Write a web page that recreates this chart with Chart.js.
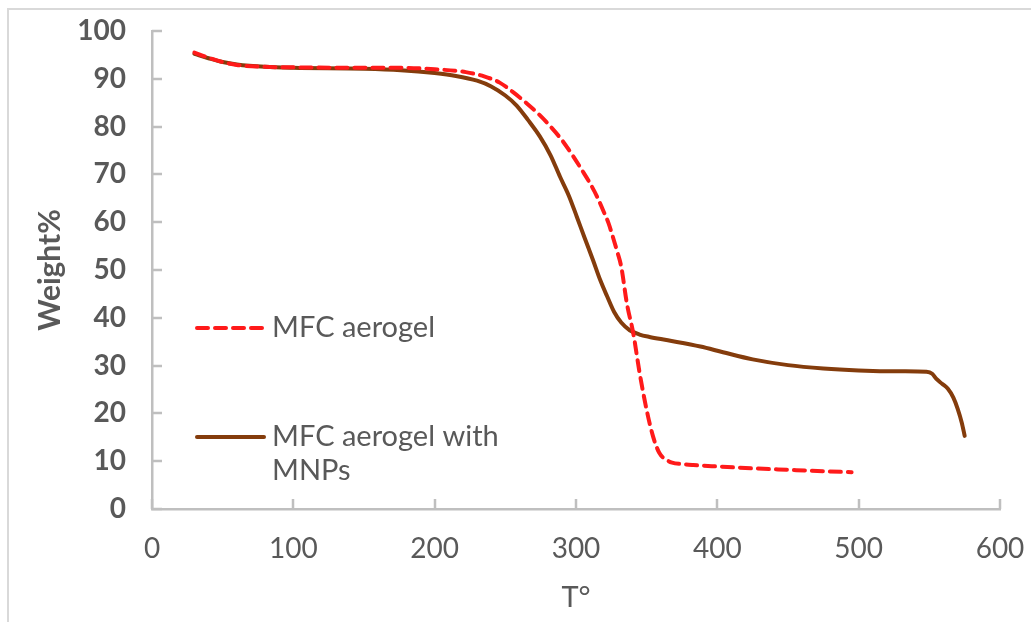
<!DOCTYPE html>
<html>
<head>
<meta charset="utf-8">
<script src="https://cdn.jsdelivr.net/npm/chart.js@4"></script>
<style>
  html, body { margin: 0; padding: 0; background: #ffffff; }
  #frame { position: absolute; left: 7px; top: 8px; width: 1100px; height: 700px; border: 2px solid #d9d9d9; box-sizing: border-box; }
  #wrap { position: absolute; left: 0; top: 0; width: 1031px; height: 622px; }
</style>
</head>
<body>
<div id="frame"></div>
<div id="wrap"><canvas id="c" width="1031" height="622"></canvas></div>
<script>
// Temperature (°C) and weight % readings
const mfcT = [30, 40, 50, 60, 80, 100, 150, 176, 200, 222, 235, 246, 255, 265, 274, 282, 290, 298, 304, 310, 315, 319, 323, 326, 329, 332, 336, 340.5, 345, 350, 354.5, 359, 364, 368, 375, 383, 400, 425, 450, 475, 495];
const mfcW = [95.5, 94.4, 93.5, 92.9, 92.5, 92.4, 92.3, 92.3, 92.0, 91.4, 90.5, 89.2, 87.3, 84.9, 82.5, 80.0, 77.2, 73.8, 71.0, 68.1, 65.3, 62.6, 59.8, 57.0, 54.0, 50.7, 43.0, 36.8, 28.5, 20.7, 15.2, 11.7, 10.3, 9.7, 9.4, 9.2, 8.9, 8.5, 8.2, 7.9, 7.7];

const mnpT = [30, 40, 50, 60, 80, 100, 150, 176, 200, 215, 230, 240, 250, 258, 266, 274.5, 282, 288.7, 295, 300.5, 306, 312, 317, 322, 327, 332, 338, 345, 352, 365, 388, 404, 425, 450, 475, 500, 530, 548, 552, 555, 559, 563, 567, 570, 573, 575];
const mnpW = [95.2, 94.3, 93.5, 93.0, 92.5, 92.3, 92.1, 91.8, 91.2, 90.6, 89.6, 88.4, 86.5, 84.4, 81.4, 77.9, 74.0, 69.5, 65.5, 61.2, 56.8, 52.1, 48.0, 44.5, 41.2, 39.0, 37.4, 36.5, 36.0, 35.3, 34.0, 32.8, 31.3, 30.1, 29.4, 29.0, 28.8, 28.7, 28.3, 27.2, 26.2, 25.2, 23.3, 21.0, 18.0, 15.3];

const seriesNames = ["MFC aerogel", "MFC aerogel with MNPs"];
const xTitle = "T°";
const yTitle = "Weight%";

const toPts = (xs, ys) => xs.map((x, i) => ({ x: x, y: ys[i] }));

const GRAY = '#595959';
const AXIS = '#bfbfbf';
const FONT = "Lato, 'Open Sans', 'Liberation Sans', sans-serif";

const insideTicks = {
  id: 'insideTicks',
  afterDraw(chart) {
    const { ctx, scales: { x, y } } = chart;
    ctx.save();
    ctx.strokeStyle = AXIS;
    ctx.lineWidth = 2.5;
    ctx.beginPath();
    y.ticks.forEach(t => {
      const py = Math.round(y.getPixelForValue(t.value));
      ctx.moveTo(x.left, py);
      ctx.lineTo(x.left + 10, py);
    });
    x.ticks.forEach(t => {
      const px = Math.round(x.getPixelForValue(t.value));
      ctx.moveTo(px, y.bottom);
      ctx.lineTo(px, y.bottom - 10);
    });
    ctx.stroke();
    ctx.restore();
  }
};

const customLegend = {
  id: 'customLegend',
  afterDraw(chart) {
    const { ctx } = chart;
    const items = [
      { ds: chart.data.datasets[0], y: 328, lines: [seriesNames[0]] },
      { ds: chart.data.datasets[1], y: 437, lines: ["MFC aerogel with", "MNPs"] }
    ];
    ctx.save();
    items.forEach(it => {
      ctx.strokeStyle = it.ds.borderColor;
      ctx.lineWidth = 4;
      ctx.lineCap = 'round';
      ctx.setLineDash(it.ds.borderDash || []);
      ctx.beginPath();
      ctx.moveTo(197, it.y);
      ctx.lineTo(264, it.y);
      ctx.stroke();
      ctx.setLineDash([]);
      ctx.fillStyle = GRAY;
      ctx.font = "29px " + FONT;
      ctx.textBaseline = 'middle';
      ctx.textAlign = 'left';
      it.lines.forEach((ln, i) => ctx.fillText(ln, 272, it.y + i * 34));
    });
    ctx.restore();
  }
};

new Chart(document.getElementById('c'), {
  type: 'line',
  data: {
    datasets: [
      {
        label: seriesNames[0],
        data: toPts(mfcT, mfcW),
        borderColor: '#ff1a1a',
        borderWidth: 4,
        borderDash: [11, 7],
        borderCapStyle: 'round',
        pointRadius: 0,
        fill: false,
        cubicInterpolationMode: 'monotone'
      },
      {
        label: seriesNames[1],
        data: toPts(mnpT, mnpW),
        borderColor: '#843c0c',
        borderWidth: 4,
        borderCapStyle: 'round',
        pointRadius: 0,
        fill: false,
        cubicInterpolationMode: 'monotone'
      }
    ]
  },
  options: {
    responsive: false,
    animation: false,
    events: [],
    layout: { padding: { left: 0, top: 31, right: 31, bottom: 0 } },
    plugins: { legend: { display: false }, tooltip: { enabled: false } },
    scales: {
      x: {
        type: 'linear',
        min: 0, max: 600,
        ticks: { stepSize: 100, color: GRAY, font: { family: FONT, size: 28 }, padding: 23, maxRotation: 0 },
        grid: { display: true, drawOnChartArea: false, drawTicks: false },
        border: { display: true, color: AXIS, width: 2.5 },
        title: { display: true, text: xTitle, color: GRAY, font: { family: FONT, size: 29 }, padding: { top: 0, bottom: 7 } },
        afterFit(s) { s.height = 113; s.paddingLeft = 0; s.paddingRight = 0; }
      },
      y: {
        type: 'linear',
        min: 0, max: 100,
        ticks: { stepSize: 10, color: GRAY, font: { family: FONT, size: 28, weight: 'bold' }, padding: 26 },
        grid: { display: true, drawOnChartArea: false, drawTicks: false },
        border: { display: true, color: AXIS, width: 2.5 },
        title: { display: true, text: yTitle, color: GRAY, font: { family: FONT, size: 30, weight: 'bold' }, padding: { top: 32, bottom: 0 } },
        afterFit(s) { s.width = 152; s.paddingTop = 0; s.paddingBottom = 0; }
      }
    }
  },
  plugins: [insideTicks, customLegend]
});
</script>
</body>
</html>
